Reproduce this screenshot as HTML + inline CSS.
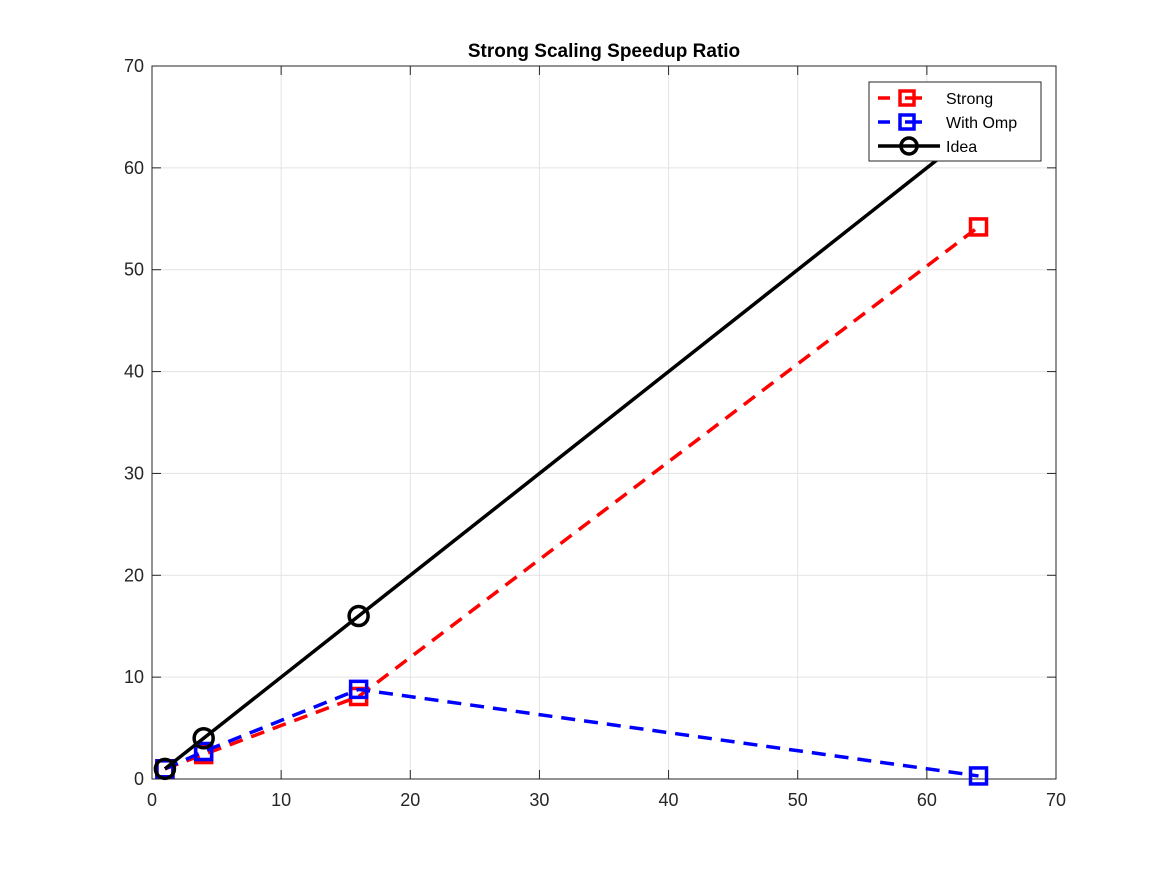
<!DOCTYPE html>
<html><head><meta charset="utf-8"><style>
body{margin:0;background:#fff;}
svg{display:block;font-family:"Liberation Sans",Arial,sans-serif;}
</style></head><body>
<svg id="chart" width="1167" height="875" viewBox="0 0 1167 875" xmlns="http://www.w3.org/2000/svg">
<rect width="1167" height="875" fill="#fff"/>
<g id="grid"></g>
<g id="axes"></g>
<g id="series"></g>
<text x="604" y="57" text-anchor="middle" font-size="19" font-weight="bold">Strong Scaling Speedup Ratio</text>
<g id="legend"></g>
</svg>
<script>
const procs = [1, 4, 16, 64];
const strongVals = [1, 2.4, 8.1, 54.2];
const ompVals = [1, 2.7, 8.8, 0.3];
const ideaVals = [1, 4, 16, 64];
const xTicks = [0, 10, 20, 30, 40, 50, 60, 70];
const yTicks = [0, 10, 20, 30, 40, 50, 60, 70];
const L=152,R=1056,T=66,B=779;
const sx=v=>L+(v-0)/70*(R-L);
const sy=v=>B-(v-0)/70*(B-T);
const NS='http://www.w3.org/2000/svg';
function mk(tag,attrs,parent){const e=document.createElementNS(NS,tag);for(const k in attrs)e.setAttribute(k,attrs[k]);parent.appendChild(e);return e;}
const grid=document.getElementById('grid'),axes=document.getElementById('axes'),series=document.getElementById('series'),legend=document.getElementById('legend');
xTicks.forEach(t=>{
  const x=sx(t);
  const g=mk('line',{x1:x,x2:x,y1:T,y2:B,stroke:'#e3e3e3','stroke-width':1},grid);
  
  mk('line',{x1:x,x2:x,y1:B,y2:B-9,stroke:'#262626'},axes);
  mk('line',{x1:x,x2:x,y1:T,y2:T+9,stroke:'#262626'},axes);
  const lb=mk('text',{x:x,y:B+27,'text-anchor':'middle','font-size':18,fill:'#262626'},axes);
  lb.textContent=t;
  
});
yTicks.forEach(t=>{
  const y=sy(t);
  const g=mk('line',{x1:L,x2:R,y1:y,y2:y,stroke:'#e3e3e3','stroke-width':1},grid);
  
  mk('line',{x1:L,x2:L+9,y1:y,y2:y,stroke:'#262626'},axes);
  mk('line',{x1:R,x2:R-9,y1:y,y2:y,stroke:'#262626'},axes);
  const lb=mk('text',{x:L-8,y:y+6,'text-anchor':'end','font-size':18,fill:'#262626'},axes);
  lb.textContent=t;
  
});
const box=mk('rect',{x:L,y:T,width:R-L,height:B-T,fill:'none',stroke:'#262626','stroke-width':1},axes);

function drawSeries(vals,color,dash,marker,name){
  const g=mk('g',{},series);
  
  const pts=procs.map((p,i)=>sx(p)+','+sy(vals[i])).join(' ');
  mk('polyline',{points:pts,fill:'none',stroke:color,'stroke-width':3.5,'stroke-dasharray':dash||'none'},g);
  procs.forEach((p,i)=>{
    let m;
    if(marker==='square') m=mk('rect',{x:sx(p)-8,y:sy(vals[i])-8,width:16,height:16,fill:'none',stroke:color,'stroke-width':3.5},g);
    else m=mk('circle',{cx:sx(p),cy:sy(vals[i]),r:9.5,fill:'none',stroke:color,'stroke-width':3.5},g);
    
  });
}
drawSeries(strongVals,'#ff0000','14 9','square','strong-series');
drawSeries(ompVals,'#0000ff','14 9','square','omp-series');
drawSeries(ideaVals,'#000000',null,'circle','idea-series');
const lr=mk('rect',{x:869,y:82,width:172,height:79,fill:'#fff',stroke:'#262626','stroke-width':1},legend);

[['Strong','#ff0000','square',98,'legend-entry-strong'],['With Omp','#0000ff','square',122,'legend-entry-omp'],['Idea','#000','circle',146,'legend-entry-idea']].forEach(([t,c,m,y,n])=>{
  const g=mk('g',{},legend);
  
  if(m==='square'){
    mk('line',{x1:878,x2:890,y1:y,y2:y,stroke:c,'stroke-width':3.5},g);
    mk('line',{x1:905,x2:922,y1:y,y2:y,stroke:c,'stroke-width':3.5},g);
    mk('rect',{x:900,y:y-7,width:14,height:14,fill:'none',stroke:c,'stroke-width':3.5},g);
  }else{
    mk('line',{x1:878,x2:940,y1:y,y2:y,stroke:c,'stroke-width':3.5},g);
    mk('circle',{cx:909,cy:y,r:8,fill:'none',stroke:c,'stroke-width':3.5},g);
  }
  const tx=mk('text',{x:t==='Idea'?946:946,y:y+6,'font-size':16,fill:'#000'},g);
  tx.textContent=t;
});
</script>
</body></html>
